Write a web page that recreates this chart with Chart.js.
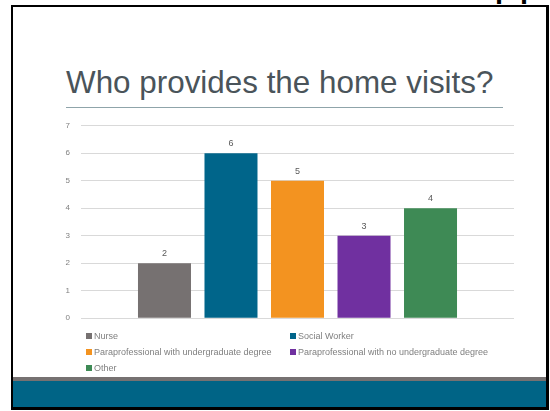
<!DOCTYPE html>
<html>
<head>
<meta charset="utf-8">
<script src="https://cdn.jsdelivr.net/npm/chart.js@4"></script>
<style>
    html, body { margin: 0; padding: 0; background: #fff; }
    body { width: 550px; height: 411px; position: relative; overflow: hidden; font-family: "Liberation Sans", Arial, sans-serif; }
    .frame { position: absolute; left: 11px; top: 5px; width: 533px; height: 400px; border-style: solid; border-color: #000; border-width: 2px 3px 3px 2px; }
    .corner { position: absolute; left: 494px; top: 0; width: 50px; height: 5px; overflow: hidden; }
    .corner span { position: absolute; left: 0; top: -43px; font-size: 45px; line-height: 45px; color: #000; }
    .title { position: absolute; left: 66px; top: 67px; font-size: 31.4px; line-height: 31px; color: #4a545a; white-space: nowrap; }
    .rule { position: absolute; left: 66px; top: 107px; width: 437px; height: 1px; background: #8fa4aa; }
    .chart-box { position: absolute; left: 0; top: 110px; width: 550px; height: 224px; }
    .legend { position: absolute; left: 86px; top: 328px; display: grid; grid-template-columns: 204px 204px; grid-auto-rows: 16px; }
    .legend-item { display: flex; align-items: center; font-size: 9px; color: #7f7f7f; white-space: nowrap; }
    .legend-item i { display: inline-block; width: 6px; height: 6px; margin-right: 2px; }
    .stripe { position: absolute; left: 13px; top: 377px; width: 533px; height: 4px; background: #767171; }
    .band { position: absolute; left: 13px; top: 381px; width: 533px; height: 26px; background: #006486; }
</style>
</head>
<body>
<div class="corner"><span>pp</span></div>
<div class="frame"></div>
<div class="title">Who provides the home visits?</div>
<div class="rule"></div>
<div class="chart-box"><canvas id="visitChart" width="550" height="224"></canvas></div>
<div class="legend" id="legend"></div>
<div class="stripe"></div>
<div class="band"></div>

<script>
const categories = ['Nurse', 'Social Worker', 'Paraprofessional with undergraduate degree', 'Paraprofessional with no undergraduate degree', 'Other'];
const counts = [2, 6, 5, 3, 4];
const yTicks = [0, 1, 2, 3, 4, 5, 6, 7];
const barColors = ['#767171', '#00658a', '#f39320', '#7030a0', '#3e8a55'];

// value labels above every bar
const valueLabels = {
    id: 'valueLabels',
    afterDatasetsDraw(chart) {
        const ctx = chart.ctx;
        ctx.save();
        ctx.font = '9px "Liberation Sans", Arial, sans-serif';
        ctx.fillStyle = '#595959';
        ctx.textAlign = 'center';
        ctx.textBaseline = 'bottom';
        chart.data.datasets.forEach((ds, i) => {
            chart.getDatasetMeta(i).data.forEach((bar, j) => {
                ctx.fillText(ds.data[j], bar.x, bar.y - 5);
            });
        });
        ctx.restore();
    }
};

function renderChart() {
    const ctx = document.getElementById('visitChart').getContext('2d');

    const chart = new Chart(ctx, {
        type: 'bar',
        data: {
            labels: [''],
            datasets: categories.map((name, i) => ({
                label: name,
                data: [counts[i]],
                backgroundColor: barColors[i],
                categoryPercentage: 0.768,
                barPercentage: 0.797
            }))
        },
        options: {
            responsive: false,
            animation: false,
            layout: { padding: { top: 14, right: 36, bottom: 3, left: 0 } },
            plugins: {
                legend: { display: false },
                tooltip: { enabled: false }
            },
            scales: {
                x: { display: false },
                y: {
                    min: yTicks[0],
                    max: yTicks[yTicks.length - 1],
                    afterFit: (scale) => { scale.width = 81; },
                    border: { display: false },
                    grid: { color: '#d9d9d9', drawTicks: false },
                    ticks: {
                        stepSize: yTicks[1] - yTicks[0],
                        padding: 11,
                        color: '#808080',
                        font: { size: 8, family: '"Liberation Sans", Arial, sans-serif' }
                    }
                }
            }
        },
        plugins: [valueLabels]
    });

    // legend in two columns
    const legend = document.getElementById('legend');
    legend.innerHTML = chart.data.datasets.map(ds => `
        <div class="legend-item"><i style="background:${ds.backgroundColor}"></i>${ds.label}</div>
    `).join('');
}

renderChart();
</script>
</body>
</html>
